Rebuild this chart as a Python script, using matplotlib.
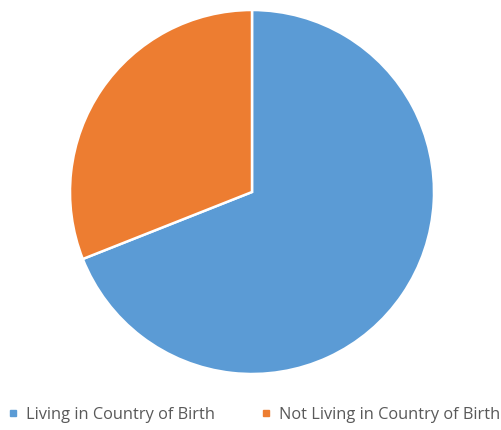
import matplotlib
matplotlib.use("Agg")
import matplotlib.pyplot as plt
from matplotlib.lines import Line2D

labels = ["Living in Country of Birth", "Not Living in Country of Birth"]
values = [69, 31]
colors = ["#5B9BD5", "#ED7D31"]

fig = plt.figure(figsize=(5.02, 4.30), dpi=100)
ax = fig.add_axes([70 / 502, 56 / 430, 364 / 502, 364 / 430])
ax.pie(values, colors=colors, startangle=90, counterclock=False,
       radius=1.0, wedgeprops=dict(edgecolor="white", linewidth=1.8))
ax.set_xlim(-1, 1)
ax.set_ylim(-1, 1)
ax.set_aspect("equal")
ax.axis("off")

handles = [Line2D([0], [0], marker="s", linestyle="none", markersize=5,
                  markerfacecolor=c, markeredgecolor=c) for c in colors]
fig.legend(handles, labels, loc="center", bbox_to_anchor=(0.507, 15 / 430),
           ncol=2, frameon=False, handlelength=0.5, handletextpad=0.5,
           columnspacing=2.9, prop=dict(family="Open Sans", size=11.8),
           labelcolor="#595959")

fig.savefig("out.png", dpi=100, facecolor="white")
